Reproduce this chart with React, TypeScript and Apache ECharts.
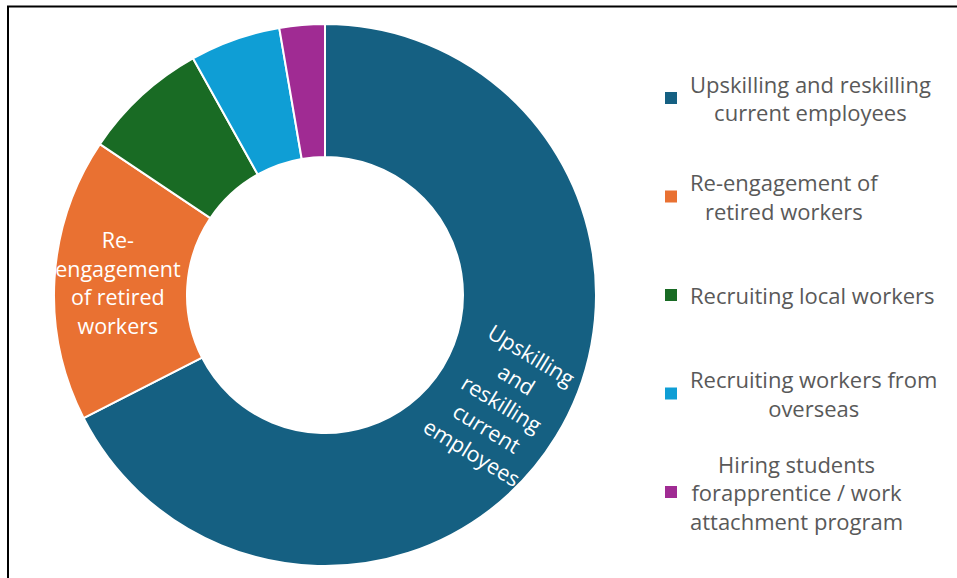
import React, { useEffect, useRef } from "react";
import * as echarts from "echarts";

const categories = [
  "Upskilling and reskilling current employees",
  "Re-engagement of retired workers",
  "Recruiting local workers",
  "Recruiting workers from overseas",
  "Hiring students forapprentice / work attachment program",
];
const values = [67.5, 16.9, 7.5, 5.4, 2.7];
const colors = ["#156082", "#E97132", "#196B24", "#0F9ED5", "#A02B93"];
const legendLabels = [
  "Upskilling and reskilling\ncurrent employees",
  "Re-engagement of\nretired workers",
  "Recruiting local workers",
  "Recruiting workers from\noverseas",
  "Hiring students\nforapprentice / work\nattachment program",
];
const sliceLabels = [
  "Upskilling\nand\nreskilling\ncurrent\nemployees",
  "Re-\nengagement\nof retired\nworkers",
  "",
  "",
  "",
];

const FONT = '"Open Sans", sans-serif';
const LEG_FS = 22;
const LAB_FS = 21.5;
const LH = 28.5;

export default function App() {
  const ref = useRef<HTMLDivElement>(null);
  useEffect(() => {
    if (!ref.current) return;
    const chart = echarts.init(ref.current, undefined, { renderer: "svg" });

    const legends = categories.map((name, i) => {
      const lines = legendLabels[i].split("\n").length;
      const cy = 98 + i * 98.5;
      return {
        show: true,
        orient: "vertical",
        left: 663,
        top: cy - (lines * LH) / 2,
        padding: 0,
        itemWidth: 14,
        itemHeight: 14,
        icon: "rect",
        selectedMode: false,
        data: [name],
        formatter: (n: string) =>
          legendLabels[categories.indexOf(n)]
            .split("\n")
            .map((l) => `{c|${l}}`)
            .join("\n"),
        textStyle: {
          color: "#595959",
          fontFamily: FONT,
          fontSize: LEG_FS,
          lineHeight: LH,
          rich: {
            c: {
              align: "center",
              color: "#595959",
              fontFamily: FONT,
              fontSize: LEG_FS,
              lineHeight: LH,
              padding: [0, 0, 0, 7],
            },
          },
        },
      };
    });

    chart.setOption({
      animation: false,
      legend: legends,
      graphic: [
        {
          type: "rect",
          shape: { x: 8, y: 6.5, width: 1200, height: 1200 },
          style: { fill: "none", stroke: "#000", lineWidth: 2 },
          silent: true,
        },
      ],
      series: [
        {
          type: "pie",
          center: [325, 295],
          radius: [138, 271],
          startAngle: 90,
          clockwise: true,
          avoidLabelOverlap: false,
          emphasis: { disabled: true },
          itemStyle: { borderColor: "#ffffff", borderWidth: 2 },
          label: {
            show: true,
            position: "inside",
            rotate: "radial",
            color: "#ffffff",
            fontFamily: FONT,
            fontSize: LAB_FS,
            lineHeight: LH,
            formatter: (p: any) => sliceLabels[p.dataIndex],
          },
          labelLine: { show: false },
          data: categories.map((name, i) => ({
            name,
            value: values[i],
            itemStyle: { color: colors[i] },
            label:
              i === 1
                ? { show: true, rotate: 0 }
                : sliceLabels[i]
                ? { show: true }
                : { show: false },
          })),
        },
      ],
    });
    return () => chart.dispose();
  }, []);

  return (
    <div
      style={{
        position: "absolute",
        left: 0,
        top: 0,
        width: 957,
        height: 578,
        background: "#ffffff",
        overflow: "hidden",
      }}
    >
      <div ref={ref} style={{ width: 957, height: 578 }} />
    </div>
  );
}
